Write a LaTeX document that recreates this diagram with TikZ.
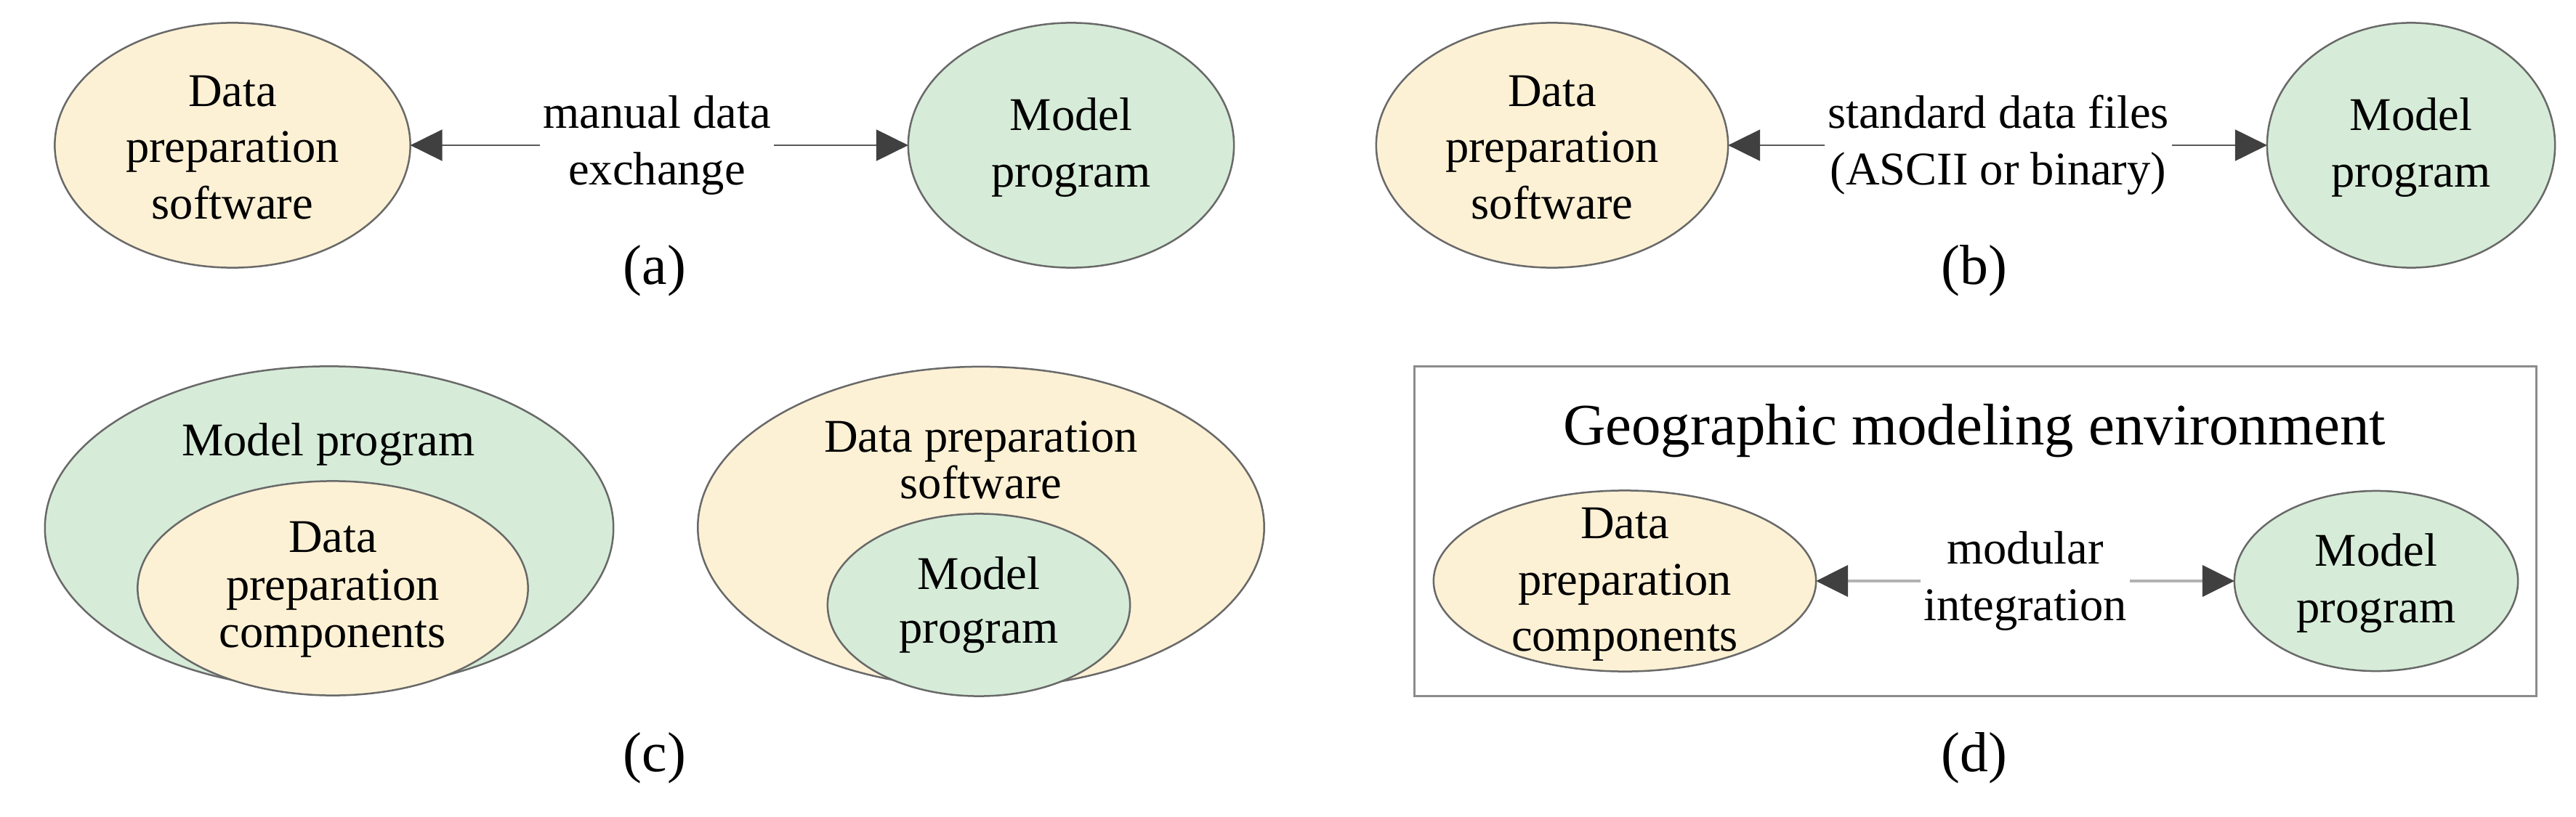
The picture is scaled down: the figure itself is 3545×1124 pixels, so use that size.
\documentclass[tikz,border=0pt]{standalone}
\usepackage{fontspec}
\setmainfont{Liberation Serif}
\usetikzlibrary{shapes.geometric,arrows.meta}
\definecolor{yel}{RGB}{253,241,213}
\definecolor{grn}{RGB}{214,236,216}
\definecolor{edge}{RGB}{105,105,105}
\definecolor{headc}{RGB}{64,64,64}
\definecolor{linec}{RGB}{90,90,90}
\definecolor{lightline}{RGB}{178,178,178}
\definecolor{boxc}{RGB}{140,140,140}
\begin{document}
\begin{tikzpicture}[x=0.01cm,y=-0.01cm,
  ell/.style={ellipse,draw=edge,line width=0.025cm,inner sep=0,outer sep=0},
  yelell/.style={ell,fill=yel},
  grnell/.style={ell,fill=grn},
  txt/.style={align=center,inner sep=0,font=\fontsize{18.36pt}{22.1pt}\selectfont},
  tighttxt/.style={txt,font=\fontsize{18.36pt}{#1}\selectfont},
  lbl/.style={txt,inner xsep=0.03cm},
  sublabel/.style={inner sep=0,font=\fontsize{22.1pt}{26pt}\selectfont},
  ttl/.style={inner sep=0,font=\fontsize{23pt}{27pt}\selectfont},
  arr/.style={-{Triangle[length=0.44cm,width=0.43cm,color=headc,fill=headc]},draw=linec,line width=0.02cm},
  arrl/.style={-{Triangle[length=0.44cm,width=0.43cm,color=headc,fill=headc]},draw=lightline,line width=0.04cm}
]
\useasboundingbox (0,0) rectangle (3545,1124);

% ---------- (a)
\node[yelell,minimum width=4.89cm,minimum height=3.37cm] (A1) at (320,200) {};
\node[grnell,minimum width=4.48cm,minimum height=3.37cm] (A2) at (1474,200) {};
\node[txt] (A1t) at (320,203) {Data\\preparation\\software};
\node[txt] (A2t) at (1474,203) {Model\\program};
\node[lbl] (la) at (904,200) {manual data\\exchange};
\draw[arr] (la) -- (A1);
\draw[arr] (la) -- (A2);
\node[sublabel] (ca) at (901,373) {(a)};

% ---------- (b)
\node[yelell,minimum width=4.84cm,minimum height=3.37cm] (B1) at (2136,200) {};
\node[grnell,minimum width=3.96cm,minimum height=3.37cm] (B2) at (3318,200) {};
\node[txt] (B1t) at (2136,203) {Data\\preparation\\software};
\node[txt] (B2t) at (3318,203) {Model\\program};
\node[lbl] (lb) at (2750,200) {standard data files\\(ASCII or binary)};
\draw[arr] (lb) -- (B1);
\draw[arr] (lb) -- (B2);
\node[sublabel] (cb) at (2717,373) {(b)};

% ---------- (c)
\node[grnell,minimum width=7.82cm,minimum height=4.45cm] (C1) at (453,727) {};
\node[yelell,minimum width=5.37cm,minimum height=2.95cm] (C1i) at (458,810) {};
\node[txt,anchor=base] (C1t) at (452,627) {Model program};
\node[tighttxt=18.6pt] (C1it) at (458,812) {Data\\preparation\\components};

\node[yelell,minimum width=7.79cm,minimum height=4.42cm] (C2) at (1350,726) {};
\node[grnell,minimum width=4.16cm,minimum height=2.51cm] (C2i) at (1347,833) {};
\node[tighttxt=18.2pt] (C2t) at (1350,633) {Data preparation\\software};
\node[tighttxt=21pt] (C2it) at (1347,833) {Model\\program};
\node[sublabel] (cc) at (901,1044) {(c)};

% ---------- (d)
\node[draw=boxc,line width=0.03cm,minimum width=15.43cm,minimum height=4.53cm,inner sep=0,outer sep=0] (box) at (2718.5,731.5) {};
\node[ttl,anchor=base] (title) at (2717,612) {Geographic modeling environment};
\node[yelell,minimum width=5.26cm,minimum height=2.49cm] (D1) at (2236,800) {};
\node[grnell,minimum width=3.90cm,minimum height=2.48cm] (D2) at (3270,800) {};
\node[txt] (D1t) at (2236,805) {Data\\preparation\\components};
\node[txt] (D2t) at (3270,803) {Model\\program};
\node[lbl] (ld) at (2787,800) {modular\\integration};
\draw[arrl] (ld) -- (D1);
\draw[arrl] (ld) -- (D2);
\node[sublabel] (cd) at (2717,1044) {(d)};
\end{tikzpicture}
\end{document}
